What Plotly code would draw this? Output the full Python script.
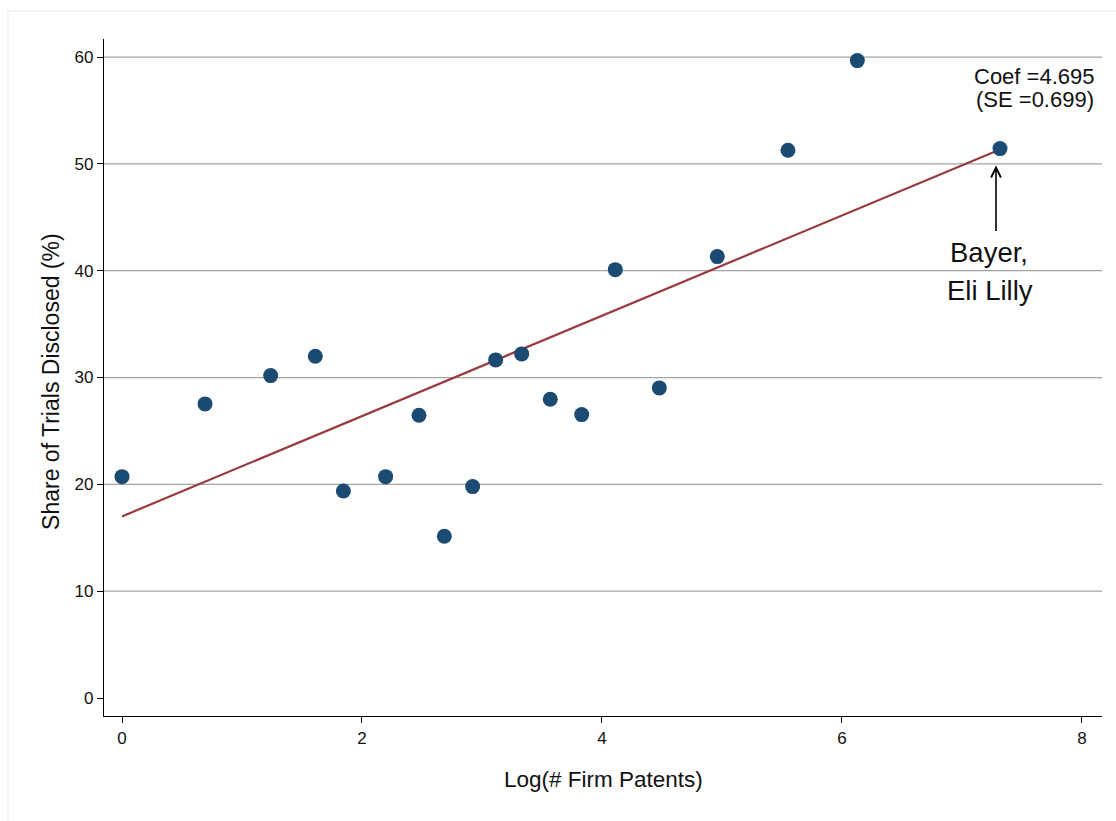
import plotly.graph_objects as go

# Firm-level observations: log patent count vs. share of trials disclosed
log_patents = [0.0, 0.692, 1.239, 1.611, 1.845, 2.197, 2.475, 2.686, 2.922, 3.114,
               3.331, 3.569, 3.831, 4.111, 4.478, 4.961, 5.550, 6.128, 7.317]
share_disclosed = [20.72, 27.53, 30.18, 31.99, 19.38, 20.72, 26.47, 15.14, 19.79, 31.65,
                   32.21, 27.97, 26.53, 40.10, 29.03, 41.32, 51.28, 59.67, 51.43]

# Fitted regression line
coef = 4.695
se = 0.699
intercept = 17.0

# Axis ticks and horizontal reference lines
x_ticks = [0, 2, 4, 6, 8]
y_ticks = [0, 10, 20, 30, 40, 50, 60]
grid_vals = [10, 20, 30, 40, 50, 60]

FONT = "Liberation Sans, Arial, Helvetica, sans-serif"
DOT = "#1b4a73"
FIT = "#983a3f"

x_min, x_max = min(log_patents), max(log_patents)
fit_x = [x_min, x_max]
fit_y = [intercept + coef * v for v in fit_x]

fig = go.Figure()

fig.add_trace(go.Scatter(
    x=fit_x, y=fit_y, mode="lines",
    line=dict(color=FIT, width=2.2),
    hoverinfo="skip", showlegend=False,
))

fig.add_trace(go.Scatter(
    x=log_patents, y=share_disclosed, mode="markers",
    marker=dict(size=15, color=DOT, line=dict(width=0)),
    showlegend=False,
))

shapes = [
    dict(type="line", xref="paper", yref="y", x0=0, x1=1, y0=g, y1=g,
         line=dict(color="#a3a3a3", width=1.2), layer="below")
    for g in grid_vals
]
# faint outer frame around the figure
shapes.append(dict(type="rect", xref="paper", yref="paper",
                   x0=-0.0962, x1=1.03, y0=-0.2, y1=1.0414,
                   line=dict(color="#e9efef", width=1.2), layer="below"))

# index of the labelled firm (highest patent count)
bayer_i = log_patents.index(x_max)
bx, by = log_patents[bayer_i], share_disclosed[bayer_i]

annotations = [
    dict(text="Coef =%.3f" % coef, xref="paper", yref="paper", x=0.994, y=0.9453,
         xanchor="right", yanchor="middle", showarrow=False,
         font=dict(family=FONT, size=22, color="#111")),
    dict(text="(SE =%.3f)" % se, xref="paper", yref="paper", x=0.994, y=0.9099,
         xanchor="right", yanchor="middle", showarrow=False,
         font=dict(family=FONT, size=22, color="#111")),
    dict(text="", x=bx, y=by, xref="x", yref="y", showarrow=True,
         ax=0, ay=84, standoff=17, xshift=-4,
         arrowhead=5, arrowsize=1.2, arrowwidth=1.6, arrowcolor="#000"),
    dict(text="Bayer,", x=bx, y=by, xref="x", yref="y", showarrow=False,
         xshift=-11, yshift=-104, xanchor="center", yanchor="middle",
         font=dict(family=FONT, size=27.5, color="#111")),
    dict(text="Eli Lilly", x=bx, y=by, xref="x", yref="y", showarrow=False,
         xshift=-10, yshift=-142, xanchor="center", yanchor="middle",
         font=dict(family=FONT, size=27.5, color="#111")),
    # axis titles
    dict(text="Log(# Firm Patents)", xref="paper", yref="paper", x=0.5, y=-0.0945,
         xanchor="center", yanchor="middle", showarrow=False,
         font=dict(family=FONT, size=22.5, color="#111")),
    dict(text="Share of Trials Disclosed (%)", xref="paper", yref="paper",
         x=-0.0531, y=0.4935, xanchor="center", yanchor="middle", textangle=-90,
         showarrow=False, font=dict(family=FONT, size=23, color="#111")),
]

fig.update_layout(
    width=1116, height=821,
    margin=dict(l=104, r=14, t=39, b=105),
    paper_bgcolor="white", plot_bgcolor="white",
    font=dict(family=FONT, color="#111"),
    shapes=shapes, annotations=annotations,
    showlegend=False,
)

fig.update_xaxes(
    range=[-0.15, 8.167], tickvals=x_ticks, showgrid=False, zeroline=False,
    showline=True, linecolor="#000", linewidth=1.3,
    ticks="outside", ticklen=6, tickwidth=1.2, tickcolor="#000",
    tickfont=dict(family=FONT, size=17, color="#111"),
)
fig.update_yaxes(
    range=[-1.685, 61.69], tickvals=y_ticks, showgrid=False, zeroline=False,
    showline=True, linecolor="#000", linewidth=1.3,
    ticks="outside", ticklen=6, tickwidth=1.2, tickcolor="#000",
    tickfont=dict(family=FONT, size=17, color="#111"),
)

fig.write_html("out.html")
